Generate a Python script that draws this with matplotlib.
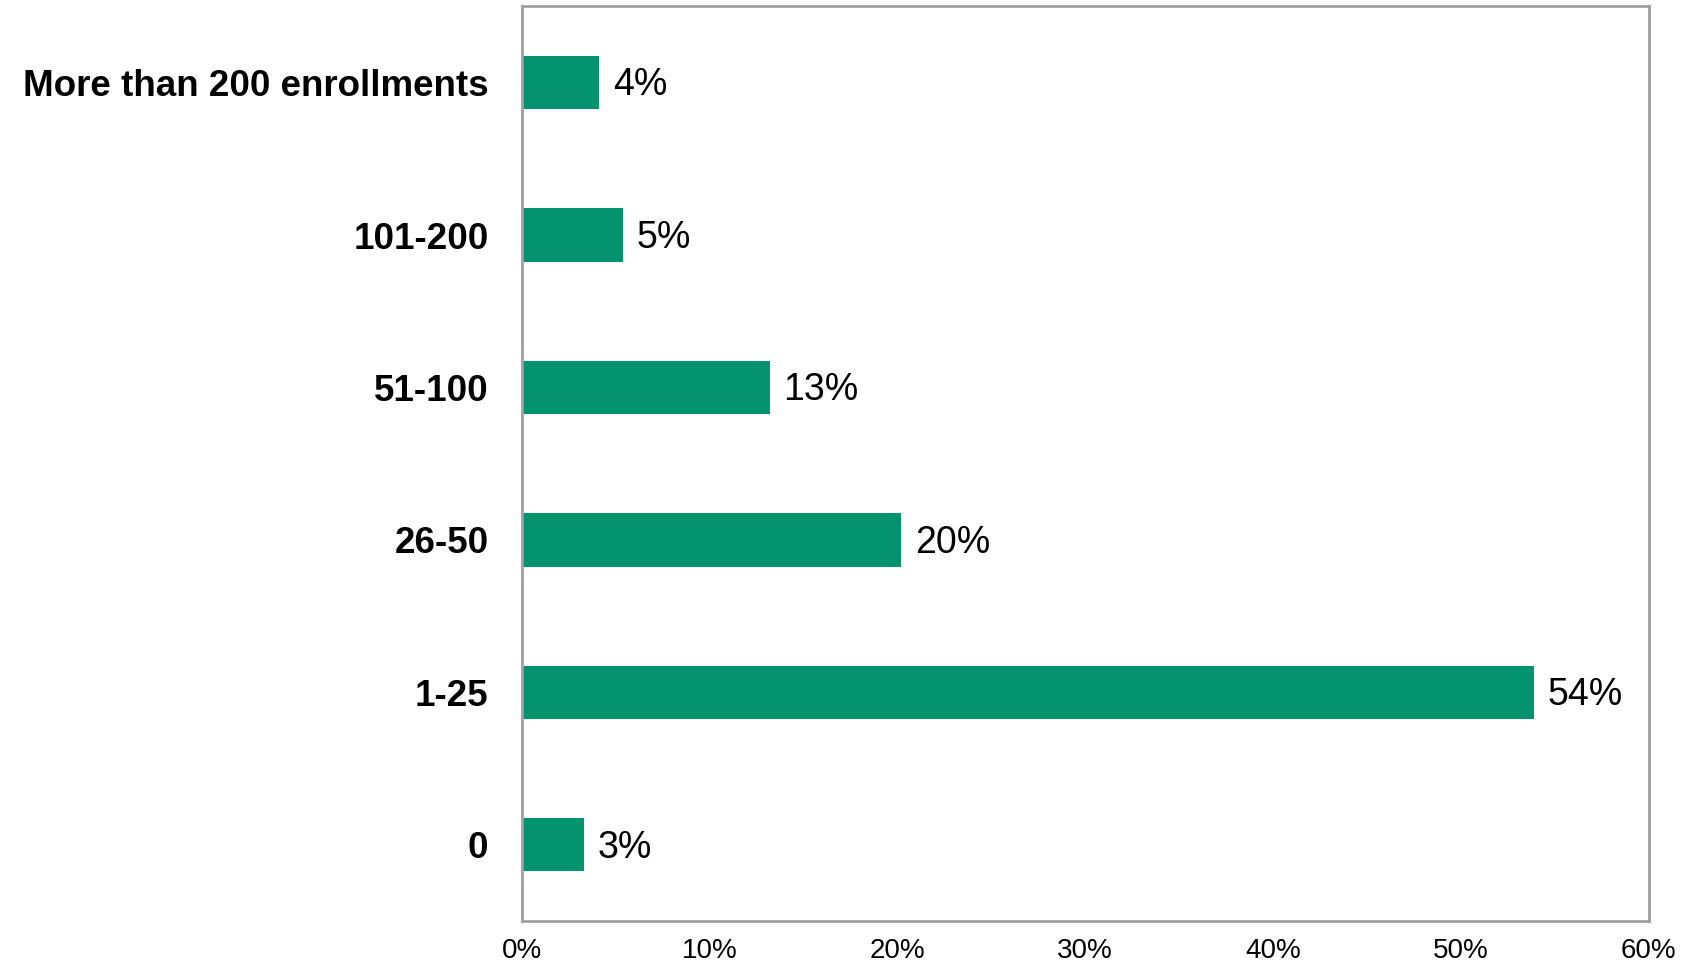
import matplotlib.pyplot as plt
from matplotlib.ticker import FuncFormatter

plt.rcParams['font.family'] = ['Liberation Sans', 'DejaVu Sans']

categories = ['0', '1-25', '26-50', '51-100', '101-200', 'More than 200 enrollments']
values = [3.3, 53.9, 20.2, 13.2, 5.4, 4.1]
labels = ['3%', '54%', '20%', '13%', '5%', '4%']

bar_color = '#03936f'
frame_color = '#a0a0a0'

fig = plt.figure(figsize=(16.83, 9.67), dpi=100)
ax = fig.add_axes([0.310, 0.0476, 0.6696, 0.9458])

y = range(len(categories))
bars = ax.barh(y, values, height=0.35, color=bar_color)

for b, lab in zip(bars, labels):
    ax.annotate(lab, (b.get_width(), b.get_y() + b.get_height() / 2),
                xytext=(10, -2), textcoords='offset points',
                va='center', ha='left', fontsize=27)

ax.set_xlim(0, 60)
ax.set_ylim(-0.5, len(categories) - 0.5)
ax.set_xticks(range(0, 61, 10))
ax.xaxis.set_major_formatter(FuncFormatter(lambda v, p: f'{v:.0f}%'))
ax.set_yticks(list(y))
ax.set_yticklabels(categories, fontsize=26.5, fontweight='bold')
ax.tick_params(axis='x', length=0, labelsize=20, pad=12)
ax.tick_params(axis='y', length=0, pad=24)

for s in ax.spines.values():
    s.set_color(frame_color)
    s.set_linewidth(2)

fig.savefig('out.png', dpi=100)
